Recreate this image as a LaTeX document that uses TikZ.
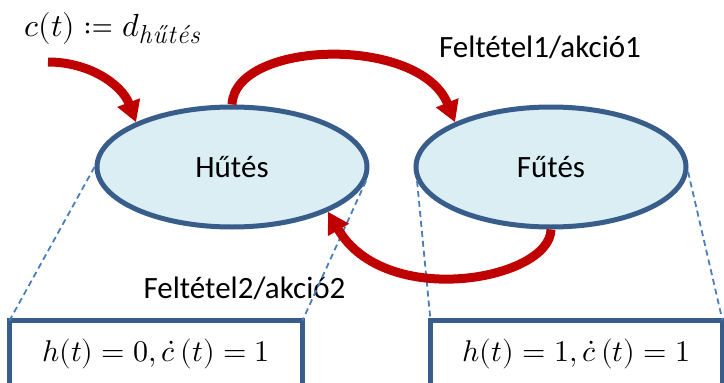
\documentclass[tikz,border=0pt]{standalone}
\usepackage{mathtools}
\usepackage{fontspec}
\usepackage{unicode-math}
\newfontfamily\calibri{Carlito}
\usetikzlibrary{shapes.geometric,arrows.meta}
\definecolor{ellfill}{HTML}{DAEEF3}
\definecolor{ellline}{HTML}{385D8A}
\definecolor{arrred}{HTML}{C00000}
\definecolor{dashblue}{HTML}{4A7EBB}
\begin{document}
\begin{tikzpicture}[x=1pt,y=-1pt,
  state/.style={ellipse, draw=ellline, fill=ellfill, line width=5pt,
    minimum width=270pt, minimum height=120pt, inner sep=0pt,
    font=\calibri\fontsize{31}{37}\selectfont},
  outbox/.style={draw=ellline, fill=white, line width=5pt, outer sep=0pt,
    minimum height=67pt, inner sep=0pt, font=\fontsize{30}{36}\selectfont},
  lbl/.style={font=\calibri\fontsize{31}{37}\selectfont, anchor=base, inner sep=0pt},
  mathlbl/.style={font=\fontsize{32}{38}\selectfont, anchor=base west, inner sep=0pt},
  trans/.style={draw=arrred, line width=9pt, -{Triangle[length=21pt,width=23pt]}},
  zoomline/.style={draw=dashblue, line width=1.8pt, dash pattern=on 6pt off 4pt}]
\useasboundingbox (0,0) rectangle (724,383);
\clip (0,0) rectangle (724,383);
% states
\node[state] (L) at (232,167) {Hűtés};
\node[state] (R) at (551,167) {Fűtés};
% detail boxes
\node[outbox, minimum width=293pt] (BL) at (156,354)
  {$h(t) = 0, \dot{c}\,(t) = 1$};
\node[outbox, minimum width=292pt] (BR) at (576.5,354)
  {$h(t) = 1, \dot{c}\,(t) = 1$};
% labels
\node[mathlbl] (cdef) at (24,36)
  {$c(t) \coloneqq d_{\text{\fontsize{26}{30}\selectfont\itshape h\kern1ptű\kern1ptt\kern1pté\kern1pts}}$};
\node[lbl] (t1) at (540,57) {Feltétel1/akció1};
\node[lbl] (t2) at (244.5,298) {Feltétel2/akció2};
% zoom lines
\draw[zoomline] (L.west) -- (BL.north west);
\draw[zoomline] (L.-6) -- (BL.north east);
\draw[zoomline] (R.186) -- (BR.north west);
\draw[zoomline] (R.-2) -- (BR.north east);
% transitions
\coordinate (src) at (48,62);
\draw[trans] (src) .. controls (90,62) and (122,85) .. (L.155);
\draw[trans] (L.north) .. controls (235,40) and (420,35) .. (R.155);
\draw[trans] (R.south) .. controls (550,280) and (385,310) .. (L.-25);
\end{tikzpicture}
\end{document}
